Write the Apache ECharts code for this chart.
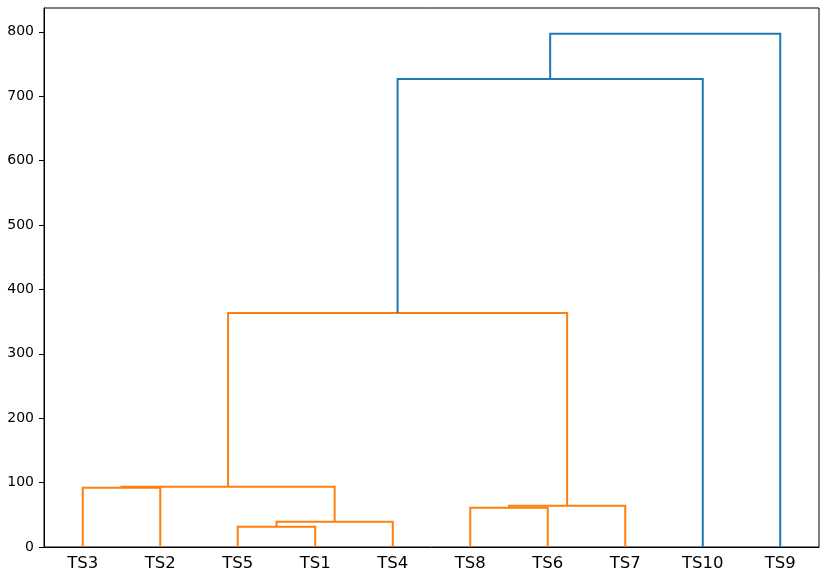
<!DOCTYPE html>
<html>
<head>
<meta charset="utf-8">
<script src="https://cdn.jsdelivr.net/npm/echarts@6/dist/echarts.min.js"></script>
<style>html,body{margin:0;padding:0;background:#fff}#chart{width:825px;height:577px}</style>
</head>
<body>
<div id="chart"></div>
<script>
// leaves in dendrogram order
const leaves = ["TS3", "TS2", "TS5", "TS1", "TS4", "TS8", "TS6", "TS7", "TS10", "TS9"];
// merges: [left id, right id, height]; ids 0-9 are leaves, 10+ are earlier merges
const merges = [
  [2, 3, 31.5],
  [10, 4, 39.3],
  [5, 6, 61.0],
  [12, 7, 64.1],
  [0, 1, 92.1],
  [14, 11, 93.6],
  [15, 13, 363.5],
  [16, 8, 726.7],
  [17, 9, 797.0]
];
const linkColors = ["#ff7f0e", "#ff7f0e", "#ff7f0e", "#ff7f0e", "#ff7f0e", "#ff7f0e", "#ff7f0e", "#1f77b4", "#1f77b4"];
const yTicks = [0, 100, 200, 300, 400, 500, 600, 700, 800];

// build U-links: [x left, y left child, x right, y right child, height]
const nodeX = leaves.map((_, i) => 5 + 10 * i);
const nodeY = leaves.map(() => 0);
const links = merges.map(([a, b, h]) => {
  nodeX.push((nodeX[a] + nodeX[b]) / 2);
  nodeY.push(h);
  return [nodeX[a], nodeY[a], nodeX[b], nodeY[b], h];
});

const chart = echarts.init(document.getElementById("chart"));
const txt = { color: "#000", fontFamily: "DejaVu Sans" };
chart.setOption({
  animation: false,
  grid: { left: 44, right: 6, top: 8, bottom: 30, show: true, borderColor: "#000", borderWidth: 1 },
  xAxis: [
    { type: "category", data: leaves, boundaryGap: true,
      axisLine: { lineStyle: { color: "#000", width: 1 } },
      axisTick: { alignWithLabel: true, length: 5, lineStyle: { color: "#000" } },
      axisLabel: { ...txt, fontSize: 16.5, margin: 8 } },
    { type: "value", min: 0, max: 100, show: false }
  ],
  yAxis: {
    type: "value", min: 0, max: 837, interval: 100,
    splitLine: { show: false },
    axisLine: { show: true, lineStyle: { color: "#000", width: 1 } },
    axisTick: { show: true, length: 5, customValues: yTicks, lineStyle: { color: "#000" } },
    axisLabel: { ...txt, fontSize: 14, margin: 10, customValues: yTicks }
  },
  series: [{
    type: "custom", xAxisIndex: 1, silent: true,
    encode: { x: [0, 2], y: [1, 3, 4] },
    data: links,
    renderItem: (params, api) => {
      const [xa, ya, xb, yb, h] = [0, 1, 2, 3, 4].map(i => api.value(i));
      const pts = [[xa, ya], [xa, h], [xb, h], [xb, yb]].map(p => api.coord(p));
      return { type: "polyline", shape: { points: pts },
        style: { stroke: linkColors[params.dataIndex], lineWidth: 2, fill: null } };
    }
  }]
});
window.addEventListener("resize", () => chart.resize());
</script>
</body>
</html>
